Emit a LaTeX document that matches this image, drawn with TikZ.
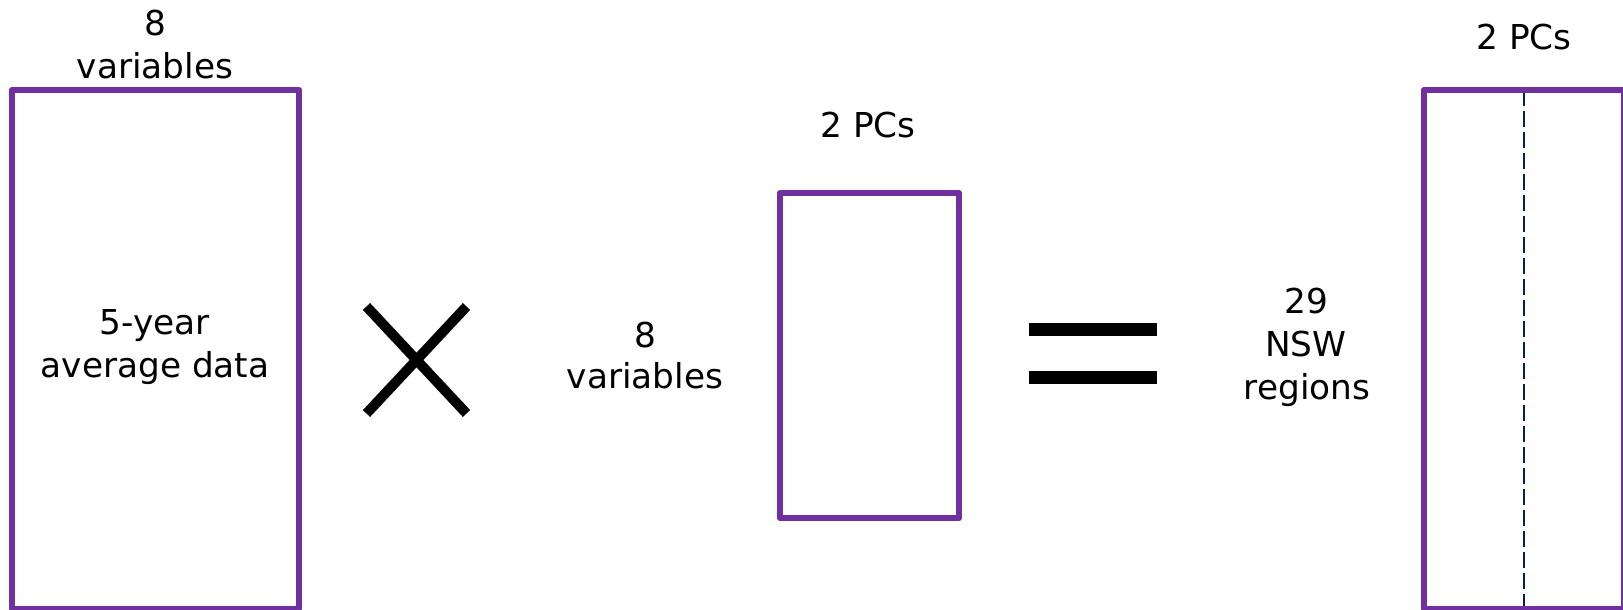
\documentclass[tikz,border=0pt]{standalone}
\usepackage{fontspec}
\setmainfont{DejaVu Sans}
\definecolor{matpurple}{HTML}{7030A0}
\definecolor{splitblue}{HTML}{002060}
\begin{document}
\begin{tikzpicture}[x=1pt,y=-1pt,
  matbox/.style={draw=matpurple, line width=6.5pt, line join=round, inner sep=0pt},
  lbl/.style={inner sep=0pt, anchor=base, font=\fontsize{34.3}{42}\selectfont},
  opstroke/.style={draw=black, line width=#1, line cap=butt}]
\useasboundingbox (0,0) rectangle (1623,610);

% matrices
\node[matbox, minimum width=287pt, minimum height=519pt] (data) at (155.5,349.5) {};
\node[matbox, minimum width=179pt, minimum height=325pt] (load) at (869.5,355.5) {};
\draw[splitblue, line width=2pt, dash pattern=on 16pt off 5pt]
  (1524,90) coordinate (splittop) -- (1524,610) coordinate (splitbot);
\node[matbox, minimum width=200pt, minimum height=519pt] (score) at (1524,349.5) {};

% labels
\node[lbl] (dcols1) at (155,36) {8};
\node[lbl] (dcols2) at (155,79) {variables};
\node[lbl] (dtxt1) at (155,334) {5-year};
\node[lbl] (dtxt2) at (155,377) {average data};

\node[lbl] (lrows1) at (645,347) {8};
\node[lbl] (lrows2) at (645,388) {variables};
\node[lbl] (lcols) at (868,137) {2 PCs};

\node[lbl] (srows1) at (1306,313) {29};
\node[lbl] (srows2) at (1306,356) {NSW};
\node[lbl] (srows3) at (1307,399) {regions};
\node[lbl] (scols) at (1524,50) {2 PCs};

% multiplication sign
\coordinate (t1) at (366.5,306.5);
\coordinate (t2) at (466.5,413.5);
\coordinate (t3) at (466.5,306.5);
\coordinate (t4) at (366.5,413.5);
\draw[opstroke=10pt] (t1) -- (t2);
\draw[opstroke=10pt] (t3) -- (t4);

% equals sign
\coordinate (e1) at (1029,329.5);
\coordinate (e2) at (1157,329.5);
\coordinate (e3) at (1029,377.5);
\coordinate (e4) at (1157,377.5);
\draw[opstroke=12.5pt] (e1) -- (e2);
\draw[opstroke=12.5pt] (e3) -- (e4);
\end{tikzpicture}
\end{document}
